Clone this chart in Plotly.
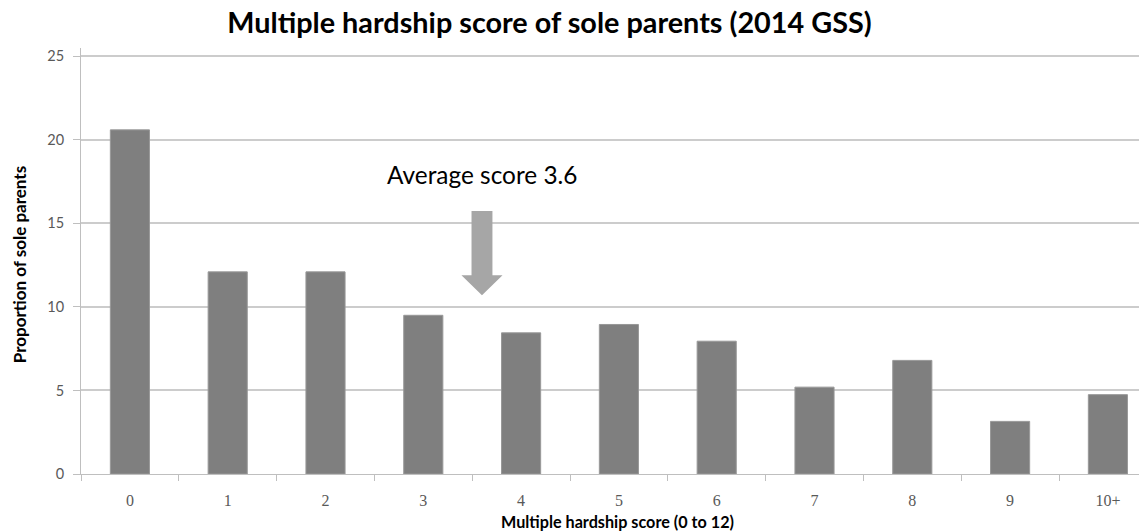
import plotly.graph_objects as go

# Share of sole parents at each multiple hardship score (2014 GSS)
categories = ["0", "1", "2", "3", "4", "5", "6", "7", "8", "9", "10+"]
proportions = [20.6, 12.1, 12.1, 9.5, 8.45, 8.95, 7.95, 5.2, 6.8, 3.15, 4.75]
y_ticks = [0, 5, 10, 15, 20, 25]
average_score = 3.6

W, H = 1139, 532
L, R, T, B = 81, 0, 48, 58
Y_MAX = 25.5
positions = list(range(len(categories)))

fig = go.Figure()
fig.add_trace(go.Bar(
    x=positions,
    y=proportions,
    marker=dict(color="#7f7f7f", line=dict(color="#989898", width=1)),
    width=0.4,
    hoverinfo="skip",
))

# Block arrow pointing down at the average score
cx = average_score
shaft, head = 0.107, 0.21
top, neck, tip = 15.75, 11.9, 10.7
arrow_path = (
    f"M {cx - shaft},{top} L {cx + shaft},{top} L {cx + shaft},{neck} "
    f"L {cx + head},{neck} L {cx},{tip} L {cx - head},{neck} "
    f"L {cx - shaft},{neck} Z"
)
fig.add_shape(type="path", path=arrow_path, xref="x", yref="y",
              fillcolor="#a6a6a6", line=dict(width=0), layer="above")

fig.add_annotation(
    x=cx, y=17.95, xref="x", yref="y",
    text=f"Average score {average_score}",
    showarrow=False, xanchor="center", yanchor="middle",
    font=dict(family="Lato", size=24.4, color="#000000"),
)

# Axis titles
fig.add_annotation(
    xref="paper", yref="paper", x=0, y=0.5 * 25 / Y_MAX, xshift=-62,
    text="<b>Proportion of sole parents</b>", textangle=-90,
    showarrow=False, xanchor="center", yanchor="middle",
    font=dict(family="Lato", size=17, color="#000000"),
)
fig.add_annotation(
    xref="paper", yref="paper", x=(617 - L) / (W - L - R), y=0, yshift=-47,
    text="<b>Multiple hardship score (0 to 12)</b>",
    showarrow=False, xanchor="center", yanchor="middle",
    font=dict(family="Lato", size=16.2, color="#000000"),
)

fig.update_layout(
    width=W, height=H,
    margin=dict(l=L, r=R, t=T, b=B, pad=0),
    paper_bgcolor="white", plot_bgcolor="white",
    showlegend=False,
    title=dict(
        text="<b>Multiple hardship score of sole parents (2014 GSS)</b>",
        x=549.5 / W, xref="container", xanchor="center",
        y=1 - 23 / H, yref="container", yanchor="middle",
        font=dict(family="Lato", size=28.8, color="#000000"),
    ),
    xaxis=dict(
        range=[-0.5, (W - L - R) / 97.8 - 0.5],
        tickmode="array", tickvals=positions, ticktext=categories,
        ticks="", showgrid=False, zeroline=False,
        showline=True, linecolor="#bfbfbf", linewidth=1,
        ticklabelstandoff=12,
        tickfont=dict(family="Liberation Serif", size=16, color="#595959"),
        minor=dict(tick0=0.5, dtick=1, ticks="outside", ticklen=6,
                   tickcolor="#bfbfbf", showgrid=False),
        fixedrange=True,
    ),
    yaxis=dict(
        range=[0, Y_MAX], tickmode="array", tickvals=y_ticks,
        ticks="outside", ticklen=7, tickcolor="#bfbfbf",
        showgrid=True, gridcolor="#cccccc", gridwidth=2,
        zeroline=False, showline=True, linecolor="#bfbfbf", linewidth=1,
        ticklabelstandoff=6,
        tickfont=dict(family="Lato", size=14.5, color="#595959"),
        fixedrange=True,
    ),
)

fig.write_html("out.html", config={"displayModeBar": False})
